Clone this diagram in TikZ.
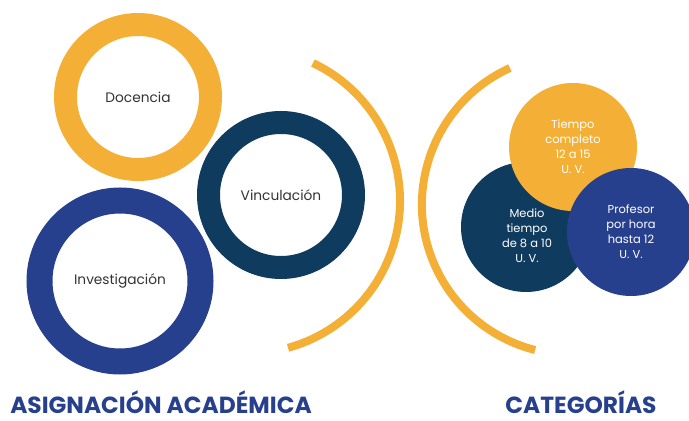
\documentclass[tikz,border=0pt]{standalone}
\usepackage{fontspec}
\setmainfont{Poppins}
\definecolor{cOrange}{HTML}{F4B036}
\definecolor{cNavy}{HTML}{0F3B5F}
\definecolor{cBlue}{HTML}{27408E}
\definecolor{cText}{HTML}{333333}
\begin{document}
\begin{tikzpicture}[x=0.75pt,y=0.75pt,
  ring/.style={circle,draw=#1,inner sep=0pt,text=cText,font=\fontsize{10.3}{12}\selectfont},
  disc/.style={circle,fill=#1,inner sep=0pt,minimum size=96pt,text=white,align=center,
     font=\fontsize{8.6}{11.2}\selectfont},
  title/.style={text=cBlue,font=\fontsize{17.5}{20}\selectfont\bfseries,inner sep=0pt},
  bow/.style={draw=cOrange,line width=6pt}]
\useasboundingbox (0,0) rectangle (689,421);
\clip (0,0) rectangle (689,421);
% rings
\node[ring=cOrange,line width=17.25pt,minimum size=108.75pt] (doc) at (138,324) {Docencia};
\node[ring=cNavy,line width=17.25pt,minimum size=108.75pt] (vin) at (281,226) {Vinculación};
\node[ring=cBlue,line width=19.5pt,minimum size=120.75pt] (inv) at (120,140) {Investigación};
% bows
\draw[bow] (247.5,220.2) ++(64.6:152.5) arc[start angle=64.6,end angle=-74.6,radius=152.5];
\draw[bow] (571.9,216.4) ++(114.4:150) arc[start angle=114.4,end angle=255.8,radius=150];
% discs
\node[disc=cNavy,minimum size=97.5pt] (med) at (526,194) {};
\node[disc=cOrange] (tc) at (573,274) {Tiempo\\completo\\12 a 15\\U. V.};
\node[disc=cBlue] (ph) at (631,189) {Profesor\\por hora\\hasta 12\\U. V.};
\node[text=white,align=center,font=\fontsize{8.6}{11.2}\selectfont,inner sep=0pt] (medt) at (527,185) {Medio\\tiempo\\de 8 a 10\\U. V.};
% titles
\node[title,anchor=base west] (t1) at (10,7) {ASIGNACIÓN ACADÉMICA};
\node[title,anchor=base] (t2) at (581,7) {CATEGORÍAS};
\end{tikzpicture}
\end{document}
